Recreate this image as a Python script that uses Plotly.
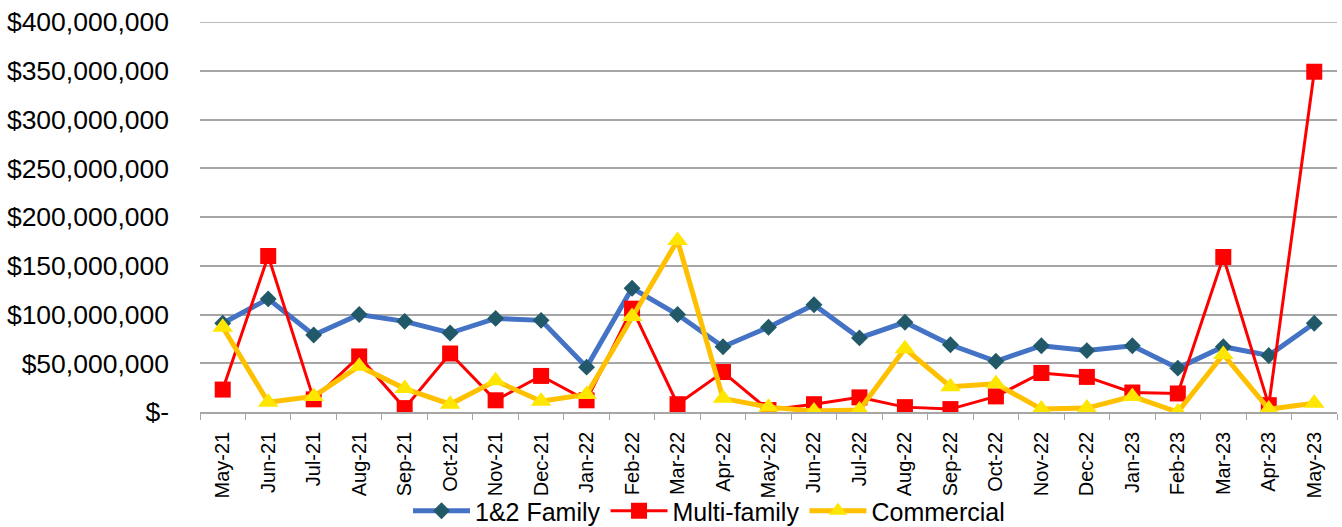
import plotly.graph_objects as go

months = ["May-21", "Jun-21", "Jul-21", "Aug-21", "Sep-21", "Oct-21", "Nov-21", "Dec-21",
          "Jan-22", "Feb-22", "Mar-22", "Apr-22", "May-22", "Jun-22", "Jul-22", "Aug-22",
          "Sep-22", "Oct-22", "Nov-22", "Dec-22", "Jan-23", "Feb-23", "Mar-23", "Apr-23", "May-23"]

family_12 = [91e6, 116e6, 79e6, 100e6, 93e6, 81e6, 96e6, 94e6, 46e6, 127e6, 100e6, 67e6, 87e6,
             110e6, 76e6, 92e6, 69e6, 52e6, 68e6, 63e6, 68e6, 45e6, 67e6, 58e6, 91e6]
multi_family = [23e6, 160e6, 13e6, 57e6, 4e6, 60e6, 12e6, 37e6, 12e6, 106e6, 8e6, 41e6, 2e6,
                8e6, 15e6, 5e6, 3e6, 16e6, 40e6, 36e6, 20e6, 19e6, 159e6, 7e6, 349e6]
commercial = [87e6, 10e6, 16e6, 47e6, 24e6, 8e6, 32e6, 11e6, 18e6, 98e6, 176e6, 14e6, 5e6,
              1e6, 2e6, 65e6, 26e6, 29e6, 3e6, 4e6, 16e6, 0, 59e6, 3e6, 9e6]

y_tickvals = [0, 50e6, 100e6, 150e6, 200e6, 250e6, 300e6, 350e6, 400e6]
y_ticktext = ["$-", "$50,000,000", "$100,000,000", "$150,000,000", "$200,000,000",
              "$250,000,000", "$300,000,000", "$350,000,000", "$400,000,000"]

FONT = "Arial, Liberation Sans, sans-serif"
GRID = "#A6A6A6"

fig = go.Figure()
fig.add_trace(go.Scatter(
    x=months, y=family_12, name="1&2 Family", mode="lines+markers",
    line=dict(color="#4472C4", width=5),
    marker=dict(symbol="diamond", size=13, color="#215968", line=dict(width=0)),
))
fig.add_trace(go.Scatter(
    x=months, y=multi_family, name="Multi-family", mode="lines+markers",
    line=dict(color="#FF0000", width=3),
    marker=dict(symbol="square", size=16, color="#FF0000", line=dict(width=0)),
))
fig.add_trace(go.Scatter(
    x=months, y=commercial, name="Commercial", mode="lines+markers",
    line=dict(color="#FFC000", width=5),
    marker=dict(symbol="triangle-up", size=18, color="#FFE600", line=dict(width=0)),
))

fig.update_layout(
    width=1342, height=527,
    margin=dict(l=200, r=5, t=22, b=115, autoexpand=False),
    paper_bgcolor="white", plot_bgcolor="white",
    font=dict(family=FONT, color="black"),
    showlegend=True,
    legend=dict(
        orientation="h", xref="container", yref="container",
        x=709 / 1342, xanchor="center", y=1 - 511 / 527, yanchor="middle",
        font=dict(size=25, family=FONT, color="black"),
        itemwidth=57, tracegroupgap=0, bgcolor="rgba(0,0,0,0)",
    ),
    shapes=[dict(type="line", xref="paper", yref="y", x0=0, x1=1,
                 y0=y_tickvals[-1], y1=y_tickvals[-1],
                 line=dict(color=GRID, width=1.5), layer="below")],
)
fig.update_xaxes(
    type="category", tickangle=-90, tickfont=dict(size=20, family=FONT, color="black"),
    showgrid=False, showline=True, linecolor=GRID, linewidth=1.5,
    ticks="outside", ticklen=6, tickcolor=GRID, tickson="boundaries",
    range=[-0.5, len(months) - 0.5], ticklabelstandoff=10, automargin=False,
)
fig.update_yaxes(
    range=[0, 400e6], tickvals=y_tickvals, ticktext=y_ticktext,
    tickfont=dict(size=26.5, family=FONT, color="black"),
    showgrid=True, gridcolor=GRID, gridwidth=1.5,
    showline=False, zeroline=False, ticks="", ticklabelstandoff=30, automargin=False,
)

fig.write_html("out.html", config={"displayModeBar": False},
               post_script="document.body.style.margin='0';")
